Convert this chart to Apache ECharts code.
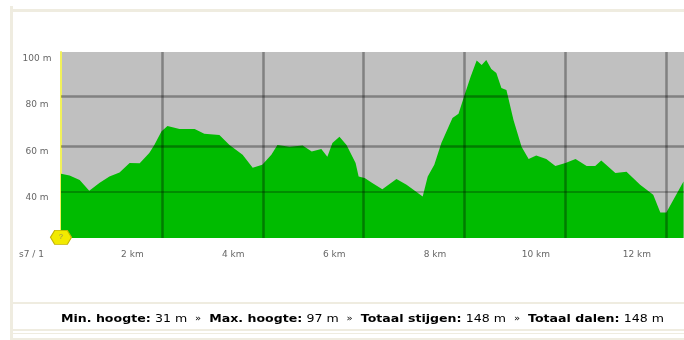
<!DOCTYPE html>
<html>
<head>
<meta charset="utf-8">
<script src="https://cdn.jsdelivr.net/npm/echarts@6/dist/echarts.min.js"></script>
<style>
html,body{margin:0;padding:0;background:#fff;overflow:hidden}
#chart{width:684px;height:340px;filter:blur(0.7px)}
</style>
</head>
<body>
<div id="chart"></div>
<script>
const distanceKm = [0,0.17,0.37,0.56,0.76,0.96,1.16,1.36,1.56,1.75,1.85,1.99,2.11,2.35,2.65,2.84,3.14,3.34,3.60,3.80,3.99,4.17,4.29,4.53,4.79,4.97,5.16,5.28,5.38,5.52,5.66,5.84,5.90,6.02,6.17,6.37,6.65,6.85,7.17,7.27,7.40,7.54,7.76,7.88,8.00,8.12,8.24,8.34,8.43,8.53,8.63,8.73,8.83,8.97,9.13,9.27,9.42,9.62,9.80,10.0,10.2,10.42,10.59,10.71,10.99,11.21,11.48,11.74,11.88,12.0,12.34];
const heightM = [47.6,46.9,45,40.3,43.7,46.4,48.2,52.3,52.2,56.6,60,65.8,68.2,66.9,66.9,64.8,64.3,60,55.8,50.2,51.5,55.8,60,59.3,59.8,57.2,58.3,55,60.9,63.5,60,52.3,46.4,45.8,43.7,41,45.4,42.9,37.9,46.4,51.5,60.9,71.6,73.4,81.5,89.4,96.3,94.4,96.6,92.7,91,84.5,83.7,70.8,59.3,54,55.5,54,51,52.3,54,51,51,53.3,48,48.5,42.9,38.6,31,31,44.3];
const xTickLabels = {0:'s7 / 1',2:'2 km',4:'4 km',6:'6 km',8:'8 km',10:'10 km',12:'12 km'};
const yTicks = [40,60,80,100];
const verticalGrid = [2,4,6,8,10,12];
const horizontalGrid = [[81.1,2.5],[59.4,2.5],[40,1.5]];
const baseBandTop = 21.4;
const stats = [['Min. hoogte:','31 m'],['Max. hoogte:','97 m'],['Totaal stijgen:','148 m'],['Totaal dalen:','148 m']];

const gridColor = 'rgba(0,0,0,0.33)';
const frame = '#efece0';
const rect = (x,y,w,h)=>({type:'rect',silent:true,shape:{x,y,width:w,height:h},style:{fill:frame}});

let statsRich = {b:{fontWeight:'bold',color:'#111',fontSize:10,fontFamily:'DejaVu Sans'},
                 n:{color:'#444',fontSize:10,fontFamily:'DejaVu Sans'},
                 s:{color:'#b9cfe8',fontSize:8,fontFamily:'DejaVu Sans',padding:[0,3,0,3]}};
let statsText = stats.map(([k,v])=>`{b|${k}} {n|${v}}`).join(' {s|»} ');

const chart = echarts.init(document.getElementById('chart'),null,{renderer:'canvas'});
chart.setOption({
  animation:false,
  backgroundColor:'#fff',
  grid:{left:61,top:52,width:623,height:186,show:true,backgroundColor:'#c0c0c0',borderWidth:0,outerBoundsMode:'none'},
  xAxis:{type:'value',min:0,max:12.35,interval:2,
    axisLine:{show:false},axisTick:{show:false},splitLine:{show:false},
    axisLabel:{showMinLabel:true,hideOverlap:false,color:'#666',fontSize:9,fontFamily:'DejaVu Sans',margin:12,align:'center',
      padding:[0,59,0,0],formatter:v=>xTickLabels[v]||''}},
  yAxis:{type:'value',min:20,max:100,interval:20,
    axisLine:{show:true,onZero:false,lineStyle:{color:'#f2f25a',width:2}},axisTick:{show:false},splitLine:{show:false},
    axisLabel:{color:'#666',fontSize:9,fontFamily:'DejaVu Sans',margin:24,align:'center',verticalAlign:'top',padding:[2,0,0,0],
      formatter:v=>yTicks.includes(v)?v+' m':''}},
  series:[{
    type:'line',
    data:distanceKm.map((d,i)=>[d,heightM[i]]),
    showSymbol:false,silent:true,
    lineStyle:{width:0},
    areaStyle:{color:'#00bb00',opacity:1,origin:'start'},
    markArea:{silent:true,itemStyle:{color:'#a9eda4'},data:[[{yAxis:20},{yAxis:baseBandTop}]]},
    markLine:{silent:true,symbol:'none',label:{show:false},z:5,
      data:[
        ...verticalGrid.map(v=>({xAxis:v,lineStyle:{color:gridColor,width:2.5,type:'solid'}})),
        ...horizontalGrid.map(([v,w])=>({yAxis:v,lineStyle:{color:gridColor,width:w,type:'solid'}}))
      ]},
    markPoint:{silent:true,z:8,symbol:'path://M4,0 L16,0 L20,6 L16,12 L4,12 L0,6 Z',symbolSize:[21,14],
      itemStyle:{color:'#f2ea00',borderColor:'#c4b400',borderWidth:1},
      data:[{coord:[0,20.3]}],label:{show:true,formatter:'?',fontSize:7,color:'#886',position:'inside'}}
  }],
  graphic:[
    rect(10,6,3,334),
    rect(10,9,674,3),
    rect(10,302,674,2),
    rect(10,329,674,2),
    rect(10,333,674,1),
    rect(10,338,674,2),
    {type:'text',x:61,y:313,scaleX:1.257,silent:true,style:{text:statsText,rich:statsRich}}
  ]
});
</script>
</body>
</html>
